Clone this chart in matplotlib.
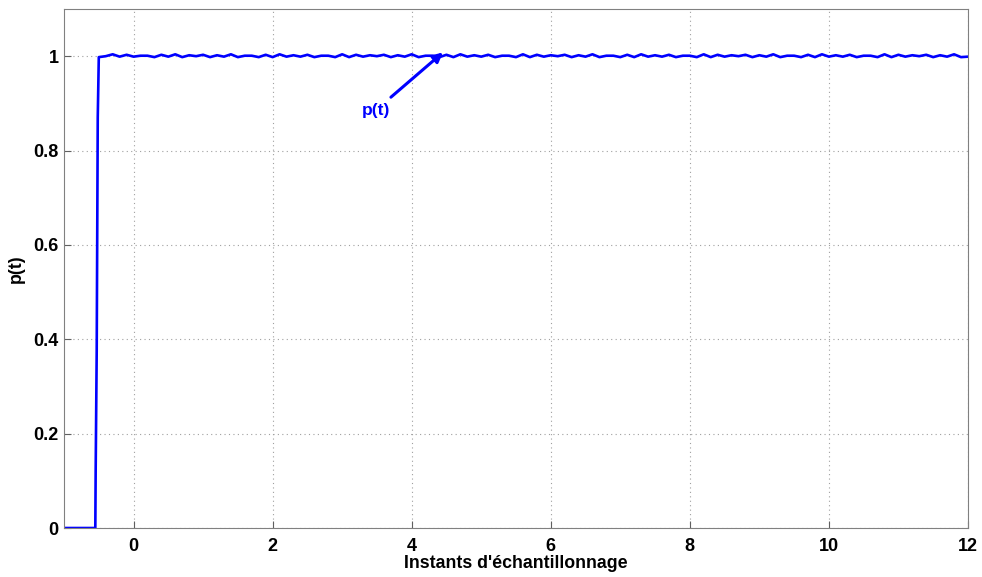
import numpy as np
import matplotlib
matplotlib.use("Agg")
import matplotlib.pyplot as plt

plt.rcParams['font.family'] = ['Liberation Sans', 'DejaVu Sans']

# rise of the step (sampled instants and values)
t_rise = [-1.0, -0.55, -0.545, -0.53, -0.515, -0.50]
p_rise = [0.0, 0.0, 0.12, 0.375, 0.87, 0.998]

# ripple around 1, one sample every 0.1 from -0.4 to 12.0
p_ripple = [
    1.000, 1.004, 0.999, 1.003, 0.999, 1.001, 1.001, 0.998, 1.003, 0.999,
    1.004, 0.998, 1.002, 1.000, 1.003, 0.998, 1.002, 0.999, 1.004, 0.998,
    1.001, 1.001, 0.998, 1.003, 0.998, 1.004, 0.999, 1.002, 0.999, 1.003,
    0.998, 1.001, 1.001, 0.998, 1.004, 0.998, 1.003, 0.999, 1.002, 1.000,
    1.003, 0.998, 1.002, 0.999, 1.004, 0.998, 1.001, 1.001, 0.998, 1.003,
    0.998, 1.004, 0.999, 1.002, 0.999, 1.003, 0.998, 1.001, 1.001, 0.998,
    1.004, 0.998, 1.003, 0.999, 1.002, 1.000, 1.003, 0.998, 1.002, 0.999,
    1.004, 0.998, 1.001, 1.001, 0.998, 1.003, 0.998, 1.004, 0.999, 1.002,
    0.999, 1.003, 0.998, 1.001, 1.001, 0.998, 1.004, 0.998, 1.003, 0.999,
    1.002, 1.000, 1.003, 0.998, 1.002, 0.999, 1.004, 0.998, 1.001, 1.001,
    0.998, 1.003, 0.998, 1.004, 0.999, 1.002, 0.999, 1.003, 0.998, 1.001,
    1.001, 0.998, 1.004, 0.998, 1.003, 0.999, 1.002, 1.000, 1.003, 0.998,
    1.002, 0.999, 1.004, 0.998, 0.999,
]
t_ripple = [round(-0.4 + 0.1 * i, 2) for i in range(len(p_ripple))]

t = np.array(t_rise + t_ripple)
p = np.array(p_rise + p_ripple)

xticks = [0, 2, 4, 6, 8, 10, 12]
yticks = [0, 0.2, 0.4, 0.6, 0.8, 1]

fig = plt.figure(figsize=(9.82, 5.77), dpi=100)
ax = fig.add_axes([0.0652, 0.0849, 0.9205, 0.8995])

ax.plot(t, p, color='#0000ff', linewidth=1.9)

ax.set_xlim(-1, 12)
ax.set_ylim(0, 1.1)
ax.set_xticks(xticks)
ax.set_yticks(yticks)
ax.set_yticklabels(['0', '0.2', '0.4', '0.6', '0.8', '1'])
ax.grid(True, linestyle=(0, (1, 3)), color='#a0a0a0', linewidth=0.8)
for s in ax.spines.values():
    s.set_color('#808080')
ax.tick_params(colors='#606060', labelcolor='black', labelsize=13,
               direction='in', length=5, pad=4)
ax.tick_params(axis='x', pad=7)
for lbl in ax.get_xticklabels() + ax.get_yticklabels():
    lbl.set_fontweight('bold')

ax.set_xlabel("Instants d'échantillonnage", fontsize=12.8, fontweight='bold', labelpad=0)
ax.set_ylabel('p(t)', fontsize=12.8, fontweight='bold', labelpad=6)

ax.annotate('p(t)', xy=(4.45, 1.008), xytext=(3.28, 0.876),
            color='#0000ff', fontsize=12.5, fontweight='bold',
            arrowprops=dict(arrowstyle='-|>', color='#0000ff', lw=2.2,
                            shrinkA=3, shrinkB=0, mutation_scale=14))

fig.savefig('out.png', dpi=100)
